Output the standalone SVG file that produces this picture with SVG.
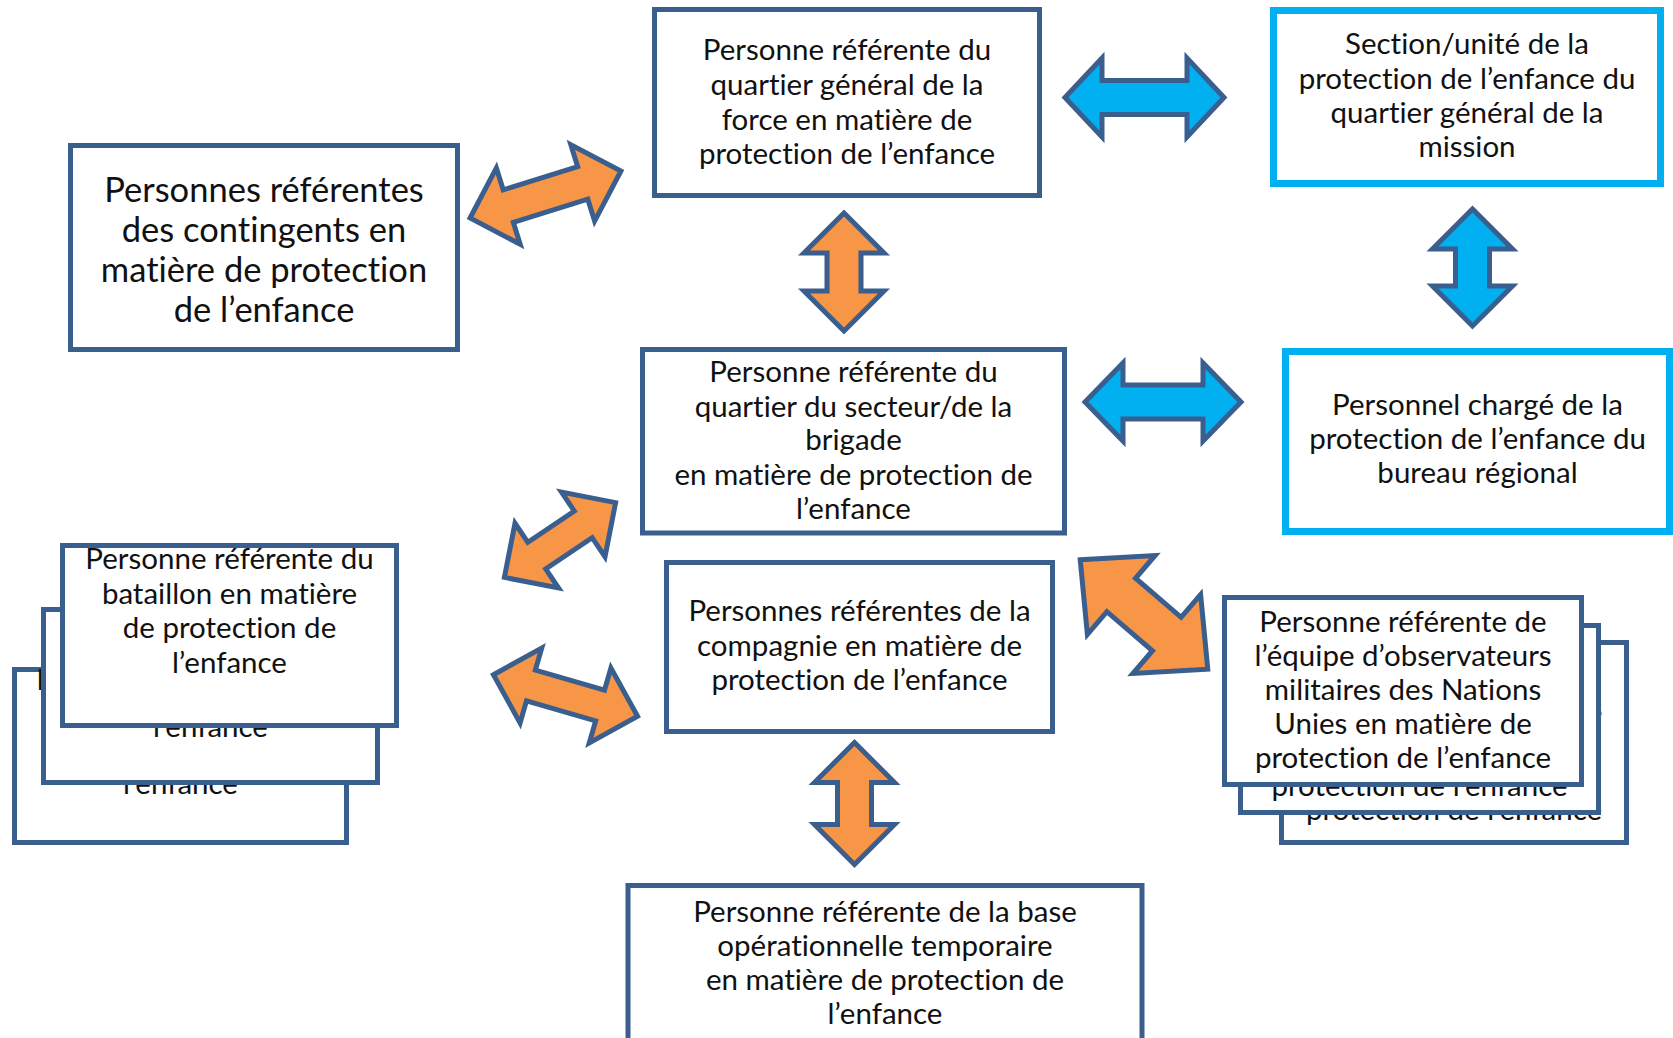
<svg xmlns="http://www.w3.org/2000/svg" width="1673" height="1038" viewBox="0 0 1673 1038">
<style>
.box{fill:#ffffff;stroke:#3A5F8F;stroke-width:5}
.cbox{fill:#ffffff;stroke:#00B0F0;stroke-width:7}
.oa{fill:#F79646;stroke:#3A5F8F;stroke-width:5;stroke-linejoin:miter}
.ba{fill:#00B0F0;stroke:#3A5F8F;stroke-width:5;stroke-linejoin:miter}
text{font-family:Lato,"Open Sans","Liberation Sans",sans-serif;font-size:29.5px;fill:#111;text-anchor:middle;font-variant-ligatures:none}
.big{font-size:34.5px}
</style>
<rect width="1673" height="1038" fill="#ffffff"/>
<g id="connectors">
<path class="oa" transform="translate(545.5,194.5) rotate(-17.3)" d="M-79,0 L-39,-40 L-39,-17 L39,-17 L39,-40 L79,0 L39,40 L39,17 L-39,17 L-39,40 Z"/>
<path class="ba" transform="translate(1144.5,97.5)" d="M-79.5,0 L-42.5,-39.5 L-42.5,-17 L42.5,-17 L42.5,-39.5 L79.5,0 L42.5,39.5 L42.5,17 L-42.5,17 L-42.5,39.5 Z"/>
<path class="ba" transform="translate(1472.5,267.5) rotate(90)" d="M-58.5,0 L-18.5,-40 L-18.5,-17 L18.5,-17 L18.5,-40 L58.5,0 L18.5,40 L18.5,17 L-18.5,17 L-18.5,40 Z"/>
<path class="oa" transform="translate(844,272) rotate(90)" d="M-59,0 L-19,-40 L-19,-17 L19,-17 L19,-40 L59,0 L19,40 L19,17 L-19,17 L-19,40 Z"/>
<path class="ba" transform="translate(1163,402)" d="M-78,0 L-40,-39 L-40,-17 L40,-17 L40,-39 L78,0 L40,39 L40,17 L-40,17 L-40,39 Z"/>
<path class="oa" transform="translate(560,540) rotate(-33.9)" d="M-67,0 L-28,-39 L-28,-16 L28,-16 L28,-39 L67,0 L28,39 L28,16 L-28,16 L-28,39 Z"/>
<path class="oa" transform="translate(565.5,695.5) rotate(16.1)" d="M-75,0 L-36,-39 L-36,-16 L36,-16 L36,-39 L75,0 L36,39 L36,16 L-36,16 L-36,39 Z"/>
<path class="oa" transform="translate(1144,614.5) rotate(40.6)" d="M-84,0 L-30,-52 L-30,-22 L30,-22 L30,-52 L84,0 L30,52 L30,22 L-30,22 L-30,52 Z"/>
<path class="oa" transform="translate(854.5,803.5) rotate(90)" d="M-61,0 L-21,-40 L-21,-17 L21,-17 L21,-40 L61,0 L21,40 L21,17 L-21,17 L-21,40 Z"/>
</g>
<g id="node-force-hq">
<rect class="box" x="654.5" y="9.5" width="385" height="186"/>
<text x="847" y="60">Personne référente du</text>
<text x="847" y="95">quartier général de la</text>
<text x="847" y="129.5">force en matière de</text>
<text x="847" y="164">protection de l’enfance</text>
</g>
<g id="node-mission-hq">
<rect class="cbox" x="1273.5" y="10.5" width="387" height="173"/>
<text x="1467" y="54">Section/unité de la</text>
<text x="1467" y="89">protection de l’enfance du</text>
<text x="1467" y="123">quartier général de la</text>
<text x="1467" y="157">mission</text>
</g>
<g id="node-contingents">
<rect class="box" x="70.5" y="145.5" width="387" height="204"/>
<text class="big" x="264" y="202">Personnes référentes</text>
<text class="big" x="264" y="242">des contingents en</text>
<text class="big" x="264" y="282">matière de protection</text>
<text class="big" x="264" y="322">de l’enfance</text>
</g>
<g id="node-sector">
<rect class="box" x="642.5" y="349.5" width="422" height="183.5"/>
<text x="853.5" y="382">Personne référente du</text>
<text x="853.5" y="416.5">quartier du secteur/de la</text>
<text x="853.5" y="450">brigade</text>
<text x="853.5" y="485">en matière de protection de</text>
<text x="853.5" y="519">l’enfance</text>
</g>
<g id="node-regional">
<rect class="cbox" x="1285.5" y="351.5" width="384" height="180"/>
<text x="1477.5" y="415">Personnel chargé de la</text>
<text x="1477.5" y="449">protection de l’enfance du</text>
<text x="1477.5" y="483">bureau régional</text>
</g>
<g id="node-battalion-3">
<rect class="box" x="14.5" y="669.5" width="332" height="173"/>
<text x="180.5" y="690">Personne référente du</text>
<text x="180.5" y="725">bataillon en matière</text>
<text x="180.5" y="759">de protection de</text>
<text x="180.5" y="794">l’enfance</text>
</g>
<g id="node-battalion-2">
<rect class="box" x="43.5" y="609.5" width="334" height="173"/>
<text x="210.5" y="633">Personne référente du</text>
<text x="210.5" y="668">bataillon en matière</text>
<text x="210.5" y="702">de protection de</text>
<text x="210.5" y="737">l’enfance</text>
</g>
<g id="node-battalion-1">
<rect class="box" x="62.5" y="545.5" width="334" height="180"/>
<text x="229.5" y="569">Personne référente du</text>
<text x="229.5" y="604">bataillon en matière</text>
<text x="229.5" y="638">de protection de</text>
<text x="229.5" y="673">l’enfance</text>
</g>
<g id="node-company">
<rect class="box" x="666.5" y="562.5" width="386" height="169"/>
<text x="859.5" y="621">Personnes référentes de la</text>
<text x="859.5" y="656">compagnie en matière de</text>
<text x="859.5" y="690">protection de l’enfance</text>
</g>
<g id="node-observers-3">
<rect class="box" x="1281.5" y="642.5" width="345" height="200"/>
<text x="1454" y="684">Personne référente de</text>
<text x="1454" y="718">l’équipe d’observateurs</text>
<text x="1454" y="752">militaires des Nations</text>
<text x="1454" y="786">Unies en matière de</text>
<text x="1454" y="820">protection de l’enfance</text>
</g>
<g id="node-observers-2">
<rect class="box" x="1240.5" y="625.5" width="358" height="187"/>
<text x="1419.5" y="660">Personne référente de</text>
<text x="1419.5" y="694">l’équipe d’observateurs</text>
<text x="1419.5" y="728">militaires des Nations</text>
<text x="1419.5" y="762">Unies en matière de</text>
<text x="1419.5" y="796">protection de l’enfance</text>
</g>
<g id="node-observers-1">
<rect class="box" x="1224.5" y="597.5" width="357" height="187"/>
<text x="1403" y="632">Personne référente de</text>
<text x="1403" y="666">l’équipe d’observateurs</text>
<text x="1403" y="700">militaires des Nations</text>
<text x="1403" y="734">Unies en matière de</text>
<text x="1403" y="768">protection de l’enfance</text>
</g>
<g id="node-tob">
<rect class="box" x="628" y="885.5" width="514" height="170"/>
<text x="885" y="922">Personne référente de la base</text>
<text x="885" y="956">opérationnelle temporaire</text>
<text x="885" y="990">en matière de protection de</text>
<text x="885" y="1024">l’enfance</text>
</g>
</svg>
